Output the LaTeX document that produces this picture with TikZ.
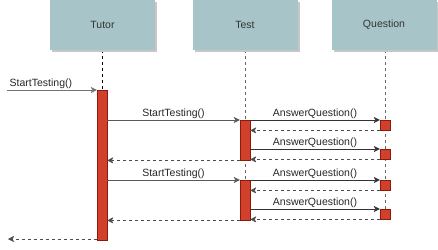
\documentclass[tikz,border=0pt]{standalone}
\usepackage{fontspec}
\setmainfont{Liberation Sans}
\usetikzlibrary{arrows.meta,shadows,backgrounds}
\definecolor{boxteal}{HTML}{A7C5C9}
\definecolor{barred}{HTML}{D0402A}
\definecolor{bardark}{HTML}{8B1A0A}

\begin{document}
\begin{tikzpicture}[x=1pt, y=-1pt,
    actor/.style={rectangle, fill=boxteal, minimum width=105, minimum height=50,
                 text=black!80, font=\fontsize{10.5}{12}\selectfont,
                 drop shadow={shadow xshift=2pt, shadow yshift=-2pt, fill=black!22, opacity=1}},
    actbar/.style={rectangle, draw=bardark, fill=barred, minimum width=10, inner sep=0pt, anchor=north},
    lifeline/.style={dash pattern=on 3pt off 3pt, black!60, thick},
    call/.style={-{Stealth[length=6pt, width=6pt, inset=1.5pt]}, black!80},
    reply/.style={-{Stealth[length=6pt, width=6pt, inset=1.5pt]}, black!70, dash pattern=on 3pt off 3pt},
    lbl/.style={font=\fontsize{10.5}{12}\selectfont, text=black!85, inner sep=1.5pt}
]
    \useasboundingbox (0,0) rectangle (438,249);

    % participants
    \node[actor] (tutor) at (102.5,25) {Tutor};
    \node[actor] (test) at (245,25) {Test};
    \node[actor] (question) at (384,25) {Question};

    % activation bars
    \node[actbar, minimum height=150] (tutorbar) at (102,90) {};
    \node[actbar, minimum height=40] (testbarA) at (245,120) {};
    \node[actbar, minimum height=40] (testbarB) at (245,180) {};
    \node[actbar, minimum height=10] (qA) at (385,120) {};
    \node[actbar, minimum height=10] (qB) at (385,149) {};
    \node[actbar, minimum height=10] (qC) at (385,180) {};
    \node[actbar, minimum height=10] (qD) at (385,209) {};

    \begin{scope}[on background layer]
        \draw[lifeline, black] (tutor.south -| tutorbar.north) -- (tutorbar.north);
        \draw[lifeline] (test.south -| testbarA.north) -- (testbarB.south);
        \draw[lifeline] (question.south -| qA.north) -- (qD.south);
    \end{scope}

    \coordinate (start) at (7,90);
    \coordinate (finish) at (8,239);

    \draw[call, black!55] (start) -- node[lbl, pos=0, above right, xshift=1pt] {StartTesting()} (tutorbar.north west);

    % first round
    \draw[call, black!65] (tutorbar.east |- testbarA.north) -- node[lbl, above] {StartTesting()} (testbarA.north west);
    \draw[call] (testbarA.east |- qA.north) -- node[lbl, above] {AnswerQuestion()} (qA.north west);
    \draw[reply] (qA.south west) -- (testbarA.east |- qA.south);
    \draw[call] (testbarA.east |- qB.north) -- node[lbl, above] {AnswerQuestion()} (qB.north west);
    \draw[reply] (qB.south west) -- (testbarA.east |- qB.south);
    \draw[reply] (testbarA.south west) -- (tutorbar.east |- testbarA.south);

    % second round
    \draw[call, black!65] (tutorbar.east |- testbarB.north) -- node[lbl, above] {StartTesting()} (testbarB.north west);
    \draw[call] (testbarB.east |- qC.north) -- node[lbl, above] {AnswerQuestion()} (qC.north west);
    \draw[reply] (qC.south west) -- (testbarB.east |- qC.south);
    \draw[call] (testbarB.east |- qD.north) -- node[lbl, above] {AnswerQuestion()} (qD.north west);
    \draw[reply] (qD.south west) -- (testbarB.east |- qD.south);
    \draw[reply] (testbarB.south west) -- (tutorbar.east |- testbarB.south);

    \draw[reply] (tutorbar.west |- finish) -- (finish);
\end{tikzpicture}
\end{document}
